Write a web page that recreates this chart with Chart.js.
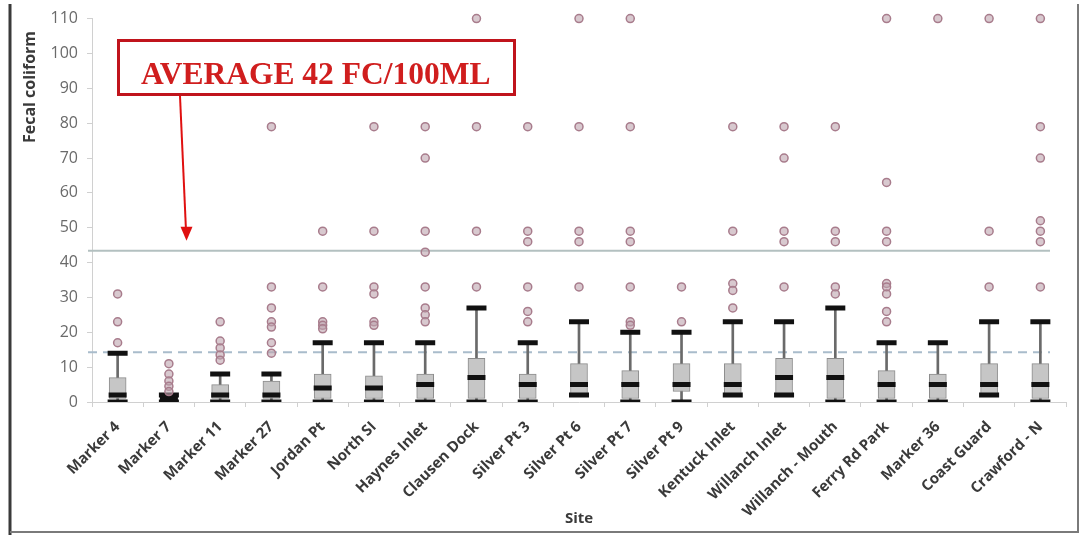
<!DOCTYPE html>
<html>
<head>
<meta charset="utf-8">
<script src="https://cdn.jsdelivr.net/npm/chart.js@4/dist/chart.umd.min.js"></script>
<style>
  html, body { margin: 0; padding: 0; background: #ffffff; }
  #wrap { width: 1081px; height: 535px; }
</style>
</head>
<body>
<div id="wrap"><canvas id="c" width="1081" height="535"></canvas></div>
<script>
// Sampling sites along the x axis
const sites = [
  'Marker 4', 'Marker 7', 'Marker 11', 'Marker 27', 'Jordan Pt', 'North SI',
  'Haynes Inlet', 'Clausen Dock', 'Silver Pt 3', 'Silver Pt 6', 'Silver Pt 7',
  'Silver Pt 9', 'Kentuck Inlet', 'Willanch Inlet', 'Willanch - Mouth',
  'Ferry Rd Park', 'Marker 36', 'Coast Guard', 'Crawford - N'
];

// Five-number summaries, fecal coliform (FC/100 mL)
const whiskerLow  = [0, 0, 0, 0, 0, 0, 0, 0, 0, 2, 0, 0, 2, 2, 0, 0, 0, 2, 0];
const quartile1   = [1, 0, 1, 1, 1, 1, 1, 1, 1, 2, 1, 3, 2, 2, 1, 1, 1, 2, 1];
const medians     = [2, 1, 2, 2, 4, 4, 5, 7, 5, 5, 5, 5, 5, 7, 7, 5, 5, 5, 5];
const quartile3   = [7, 2, 5, 6, 8, 7.5, 8, 12.5, 8, 11, 9, 11, 11, 12.5, 12.5, 9, 8, 11, 11];
const whiskerHigh = [14, 2, 8, 8, 17, 17, 17, 27, 17, 23, 20, 20, 23, 23, 27, 17, 17, 23, 23];

// Outlying samples per site
const outliers = [
  [31, 23, 17],
  [11, 8, 6, 4.5, 3],
  [23, 17.5, 15.5, 13.5, 12],
  [79, 33, 27, 23, 21.5, 17, 14],
  [49, 33, 23, 22, 21],
  [79, 49, 33, 31, 23, 22],
  [79, 70, 49, 43, 33, 27, 25, 23],
  [110, 79, 49, 33],
  [79, 49, 46, 33, 26, 23],
  [110, 79, 49, 46, 33],
  [110, 79, 49, 46, 33, 23, 22],
  [33, 23],
  [79, 49, 34, 32, 27],
  [79, 70, 49, 46, 33],
  [79, 49, 46, 33, 31],
  [110, 63, 49, 46, 34, 33, 31, 26, 23],
  [110],
  [110, 49, 33],
  [110, 79, 70, 52, 49, 46, 33]
];

// Reference levels
const averageLevel = 43.4;
const guideLevel = 14.3;
const yTicks = { min: 0, max: 110, step: 10 };

const whiskerData = sites.map((s, i) => [whiskerLow[i], whiskerHigh[i]]);
const boxData = sites.map((s, i) => [quartile1[i], quartile3[i]]);
const capData = [];
sites.forEach((s, i) => {
  capData.push({ x: s, y: whiskerLow[i] });
  capData.push({ x: s, y: whiskerHigh[i] });
});
const medianData = sites.map((s, i) => ({ x: s, y: medians[i] }));
const outlierData = [];
sites.forEach((s, i) => outliers[i].forEach(v => outlierData.push({ x: s, y: v })));

const sansFamily = '"Open Sans", "Liberation Sans", sans-serif';

// Average / guide lines behind the boxes
const refLines = {
  id: 'refLines',
  beforeDatasetsDraw(chart) {
    const { ctx, chartArea, scales } = chart;
    const yA = scales.y.getPixelForValue(averageLevel);
    const yG = scales.y.getPixelForValue(guideLevel);
    ctx.save();
    ctx.lineWidth = 2;
    ctx.strokeStyle = '#b3c0c0';
    ctx.beginPath();
    ctx.moveTo(chartArea.left - 4, yA);
    ctx.lineTo(chartArea.right - 16, yA);
    ctx.stroke();
    ctx.strokeStyle = '#a9bccb';
    ctx.setLineDash([9, 6]);
    ctx.beginPath();
    ctx.moveTo(chartArea.left - 4, yG);
    ctx.lineTo(chartArea.right - 16, yG);
    ctx.stroke();
    ctx.restore();
  }
};

// Frame, y-axis title and call-out box with arrow
const callout = {
  id: 'callout',
  beforeDraw(chart) {
    const ctx = chart.ctx;
    ctx.save();
    ctx.fillStyle = '#ffffff';
    ctx.fillRect(0, 0, chart.width, chart.height);
    ctx.restore();
  },
  afterDraw(chart) {
    const { ctx, scales } = chart;
    ctx.save();
    // frame
    ctx.strokeStyle = '#3a3a3a';
    ctx.lineWidth = 3;
    ctx.beginPath();
    ctx.moveTo(10, 4);
    ctx.lineTo(10, 535);
    ctx.stroke();
    ctx.strokeStyle = '#7a7a7a';
    ctx.lineWidth = 2;
    ctx.beginPath();
    ctx.moveTo(10, 532);
    ctx.lineTo(1078, 532);
    ctx.lineTo(1078, 4);
    ctx.stroke();

    // y-axis title
    ctx.save();
    ctx.translate(30, 87);
    ctx.rotate(-Math.PI / 2);
    ctx.fillStyle = '#3a3a3a';
    ctx.font = 'bold 16px ' + sansFamily;
    ctx.textAlign = 'center';
    ctx.textBaseline = 'middle';
    ctx.fillText('Fecal coliform', 0, 0);
    ctx.restore();

    // call-out box
    ctx.strokeStyle = '#c0141c';
    ctx.lineWidth = 3;
    ctx.strokeRect(118.5, 40.5, 396, 54);
    ctx.fillStyle = '#d01e1e';
    ctx.font = 'bold 31.5px "Liberation Serif", "DejaVu Serif", serif';
    ctx.textBaseline = 'alphabetic';
    ctx.textAlign = 'left';
    ctx.fillText('AVERAGE 42 FC/100ML', 141, 84);

    // arrow pointing at the average line
    const tipY = scales.y.getPixelForValue(averageLevel) - 10;
    ctx.strokeStyle = '#e01010';
    ctx.fillStyle = '#e01010';
    ctx.lineWidth = 2;
    ctx.beginPath();
    ctx.moveTo(180, 96);
    ctx.lineTo(186, tipY - 10);
    ctx.stroke();
    ctx.beginPath();
    ctx.moveTo(186.5, tipY);
    ctx.lineTo(180.5, tipY - 14);
    ctx.lineTo(192.5, tipY - 14);
    ctx.closePath();
    ctx.fill();
    ctx.restore();
  }
};

new Chart(document.getElementById('c'), {
  type: 'bar',
  data: {
    labels: sites,
    datasets: [
      {
        type: 'bar',
        label: 'whisker',
        data: whiskerData,
        backgroundColor: '#6a6a6a',
        barThickness: 2,
        grouped: false,
        order: 5
      },
      {
        type: 'bar',
        label: 'box',
        data: boxData,
        backgroundColor: '#c6c6c6',
        borderColor: '#8c8c8c',
        borderWidth: 1,
        borderSkipped: false,
        barThickness: 17,
        grouped: false,
        order: 4
      },
      {
        type: 'line',
        label: 'caps',
        data: capData,
        showLine: false,
        pointStyle: 'line',
        pointRadius: 10,
        pointBorderWidth: 5,
        pointBorderColor: '#111111',
        pointHoverRadius: 10,
        order: 3
      },
      {
        type: 'line',
        label: 'median',
        data: medianData,
        showLine: false,
        pointStyle: 'line',
        pointRadius: 9,
        pointBorderWidth: 5,
        pointBorderColor: '#111111',
        pointHoverRadius: 9,
        order: 2
      },
      {
        type: 'line',
        label: 'outliers',
        data: outlierData,
        showLine: false,
        pointStyle: 'circle',
        pointRadius: 4,
        pointBorderWidth: 1.5,
        pointBackgroundColor: 'rgba(190, 165, 175, 0.6)',
        pointBorderColor: '#a87c8c',
        clip: false,
        order: 1
      }
    ]
  },
  options: {
    responsive: false,
    animation: false,
    layout: { padding: { left: 10, right: 15, top: 14, bottom: 5 } },
    plugins: {
      legend: { display: false },
      tooltip: { enabled: false }
    },
    scales: {
      x: {
        offset: true,
        grid: { display: true, drawOnChartArea: false, offset: true, tickLength: 5, color: '#d0d0d0' },
        border: { color: '#d0d0d0', width: 1 },
        ticks: {
          minRotation: 45,
          maxRotation: 45,
          autoSkip: false,
          padding: 11,
          color: '#3a3a3a',
          font: { family: sansFamily, size: 15, weight: 'bold' }
        },
        title: {
          display: true,
          text: 'Site',
          color: '#3a3a3a',
          padding: { top: 0, bottom: 2 },
          font: { family: sansFamily, size: 15, weight: 'bold' }
        },
        afterFit(scale) { scale.height = 128; }
      },
      y: {
        min: yTicks.min,
        max: yTicks.max,
        grid: { display: true, drawOnChartArea: false, tickLength: 5, color: '#d0d0d0' },
        border: { color: '#d0d0d0', width: 1 },
        ticks: { stepSize: yTicks.step, color: '#6a6a6a', padding: 9, font: { family: sansFamily, size: 16 } },
        title: { display: false },
        afterFit(scale) { scale.width = 82; }
      }
    }
  },
  plugins: [refLines, callout]
});
</script>
</body>
</html>
